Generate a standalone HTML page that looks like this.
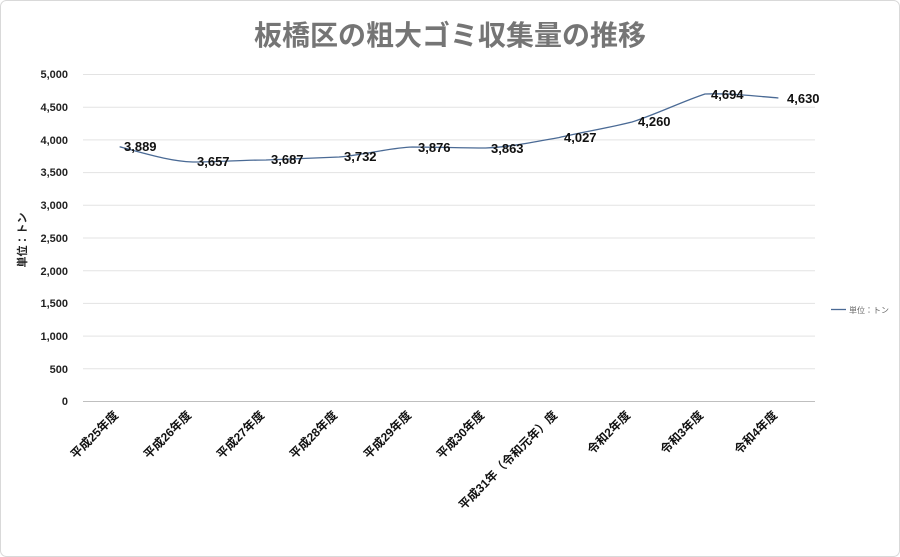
<!DOCTYPE html>
<html><head><meta charset="utf-8"><style>
body{margin:0;background:#fff;}
svg{display:block;font-family:"Liberation Sans","Noto Sans CJK JP",sans-serif;}
</style></head><body>
<svg width="900" height="557" viewBox="0 0 900 557">
<rect x="0.5" y="0.5" width="899" height="556" rx="6" fill="#fff" stroke="#d9d9d9"/>
<text x="450" y="45" text-anchor="middle" font-size="28" font-weight="bold" fill="#757575">板橋区の粗大ゴミ収集量の推移</text>
<g stroke="#e3e3e3" stroke-width="1">
<line x1="83" x2="815" y1="74.5" y2="74.5"/><line x1="83" x2="815" y1="107.2" y2="107.2"/>
<line x1="83" x2="815" y1="139.9" y2="139.9"/><line x1="83" x2="815" y1="172.6" y2="172.6"/>
<line x1="83" x2="815" y1="205.3" y2="205.3"/><line x1="83" x2="815" y1="238" y2="238"/>
<line x1="83" x2="815" y1="270.7" y2="270.7"/><line x1="83" x2="815" y1="303.4" y2="303.4"/>
<line x1="83" x2="815" y1="336.1" y2="336.1"/><line x1="83" x2="815" y1="368.8" y2="368.8"/>
</g>
<line x1="83" x2="815" y1="401.5" y2="401.5" stroke="#bfbfbf"/>
<g font-size="11" font-weight="bold" fill="#222" text-anchor="end">
<text x="68" y="78">5,000</text><text x="68" y="111">4,500</text><text x="68" y="144">4,000</text>
<text x="68" y="176">3,500</text><text x="68" y="209">3,000</text><text x="68" y="242">2,500</text>
<text x="68" y="275">2,000</text><text x="68" y="307">1,500</text><text x="68" y="340">1,000</text>
<text x="68" y="373">500</text><text x="68" y="405">0</text>
</g>
<text transform="translate(26,240) rotate(-90)" text-anchor="middle" font-size="11" font-weight="bold" fill="#222">単位：トン</text>
<path d="M119.6,146.8 C144,153 168,161 192.8,162 C217,162 242,160 266,160 C290,159 315,158 339,157 C364,155 388,148 412.4,147 C437,147 461,148 485.6,148 C510,147 534,142 558.8,137.6 C583,132 608,128 632,122 C657,114 681,102 705,94 C730,93 754,96 778.4,98" fill="none" stroke="#4a6a95" stroke-width="1.3"/>
<g font-size="13" font-weight="bold" fill="#111">
<text x="124" y="151">3,889</text><text x="197" y="166">3,657</text><text x="271" y="164">3,687</text>
<text x="344" y="161">3,732</text><text x="418" y="152">3,876</text><text x="491" y="153">3,863</text>
<text x="564" y="142">4,027</text><text x="638" y="126">4,260</text><text x="711" y="99">4,694</text>
<text x="787" y="103">4,630</text>
</g>
<g font-size="12" font-weight="bold" fill="#111" text-anchor="end">
<text transform="translate(119,416) rotate(-45)">平成25年度</text>
<text transform="translate(192,416) rotate(-45)">平成26年度</text>
<text transform="translate(265,416) rotate(-45)">平成27年度</text>
<text transform="translate(338,416) rotate(-45)">平成28年度</text>
<text transform="translate(412,416) rotate(-45)">平成29年度</text>
<text transform="translate(485,416) rotate(-45)">平成30年度</text>
<text transform="translate(558,416) rotate(-45)">平成31年（令和元年）度</text>
<text transform="translate(631,416) rotate(-45)">令和2年度</text>
<text transform="translate(704,416) rotate(-45)">令和3年度</text>
<text transform="translate(778,416) rotate(-45)">令和4年度</text>
</g>
<line x1="831" x2="846" y1="309.5" y2="309.5" stroke="#4a6a95" stroke-width="1.3"/>
<text x="849" y="313" font-size="8" fill="#666">単位：トン</text>
</svg>
</body></html>
